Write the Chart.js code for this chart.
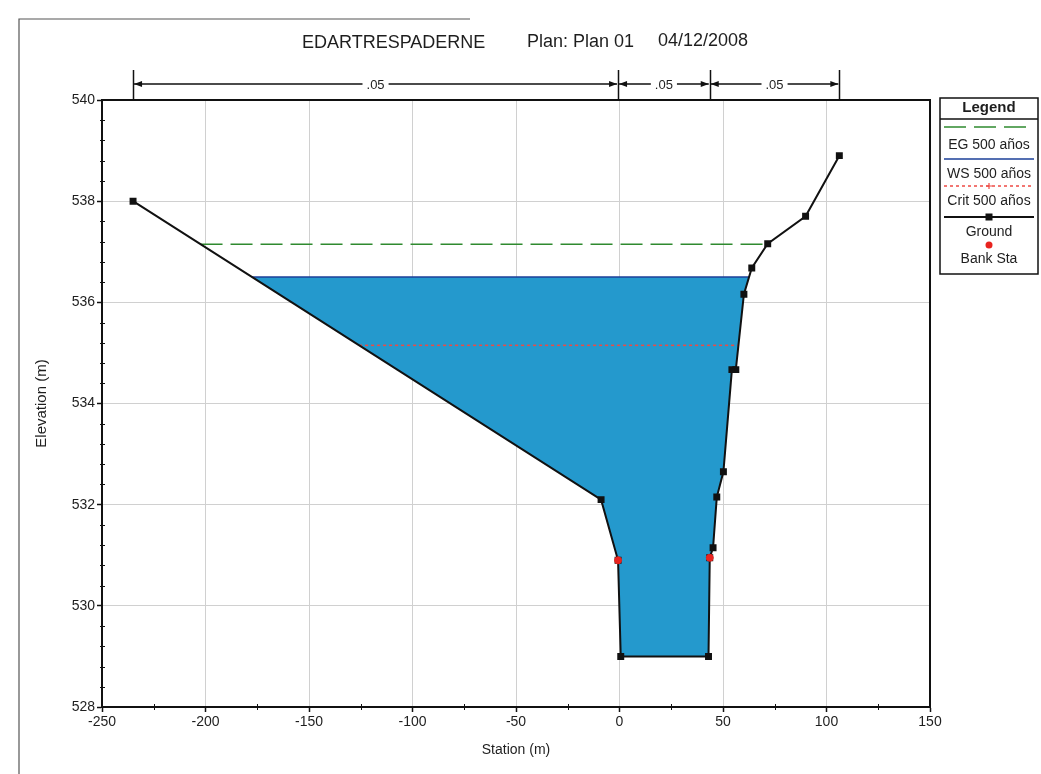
<!DOCTYPE html>
<html>
<head>
<meta charset="utf-8">
<title>EDARTRESPADERNE - Plan 01</title>
<script src="https://cdn.jsdelivr.net/npm/chart.js@4.4.1/dist/chart.umd.min.js"></script>
<style>
  html, body { margin: 0; padding: 0; background: #fff; }
  #wrap { position: relative; width: 1041px; height: 774px; }
</style>
</head>
<body>
<div id="wrap"><canvas id="xsChart" width="1041" height="774"></canvas></div>
<script>
// cross section, station (m) / elevation (m)
var groundStation = [-235, -8.9, -0.7, 0.6, 43.0, 43.6, 45.2, 47.0, 50.2, 54.3, 56.2, 60.1, 63.9, 71.6, 89.9, 106.2];
var groundElev    = [538.0, 532.1, 530.9, 529.0, 529.0, 530.95, 531.15, 532.15, 532.65, 534.67, 534.67, 536.16, 536.68, 537.16, 537.7, 538.9];
var bankStation = [-0.7, 43.6];
var bankElev    = [530.9, 530.95];
var wsStation = [-177.5, 62.6];
var wsElev    = [536.5, 536.5];
var egStation = [-202.4, 71.4];
var egElev    = [537.15, 537.15];
var critStation = [-125.8, 57.5];
var critElev    = [535.15, 535.15];
// manning n between the breaks
var nBreaks = [-235, -0.7, 43.6, 106.2];
var nValues = ['.05', '.05', '.05'];
// axis ticks
var xTickValues = [-250, -200, -150, -100, -50, 0, 50, 100, 150];
var yTickValues = [528, 530, 532, 534, 536, 538, 540];
var legendLabels = ['EG 500 años', 'WS 500 años', 'Crit 500 años', 'Ground', 'Bank Sta'];

var FONT = "'Liberation Sans', Arial, sans-serif";
var INK = '#1e1e1e';
var WATER = 'rgb(36,153,205)';

function pts(xs, ys) {
    return xs.map(function (x, i) { return { x: x, y: ys[i] }; });
}

Chart.defaults.font.family = FONT;

// title, plot box, minor ticks, n values and legend
var extras = {
    id: 'extras',
    afterDraw: function (chart) {
        var ctx = chart.ctx, a = chart.chartArea;
        var xs = chart.scales.x, ys = chart.scales.y;
        ctx.save();

        // page frame
        ctx.strokeStyle = '#555';
        ctx.lineWidth = 1.2;
        ctx.beginPath();
        ctx.moveTo(19, 774); ctx.lineTo(19, 19); ctx.lineTo(470, 19);
        ctx.stroke();

        // title
        ctx.fillStyle = INK;
        ctx.font = '18px ' + FONT;
        ctx.textBaseline = 'middle';
        ctx.textAlign = 'left';
        ctx.fillText('EDARTRESPADERNE', 302, 43);
        ctx.fillText('Plan: Plan 01', 527, 42);
        ctx.fillText('04/12/2008', 658, 41);

        // plot box
        ctx.strokeStyle = '#111';
        ctx.lineWidth = 2;
        ctx.strokeRect(a.left, a.top, a.right - a.left, a.bottom - a.top);

        // minor ticks
        ctx.lineWidth = 1;
        ctx.beginPath();
        for (var v = xTickValues[0]; v < xTickValues[xTickValues.length - 1]; v += 25) {
            if (xTickValues.indexOf(v) >= 0) continue;
            var px = Math.round(xs.getPixelForValue(v)) + 0.5;
            ctx.moveTo(px, a.bottom - 3); ctx.lineTo(px, a.bottom + 3);
        }
        for (var k = 0; k < 30; k++) {
            var ev = yTickValues[0] + k * 0.4;
            if (ev > yTickValues[yTickValues.length - 1]) break;
            if (Math.abs(ev - Math.round(ev)) < 0.01 && Math.round(ev) % 2 === 0) continue;
            var py = Math.round(ys.getPixelForValue(ev)) + 0.5;
            ctx.moveTo(a.left - 2, py); ctx.lineTo(a.left + 3, py);
        }
        ctx.stroke();

        // n values over the section
        var yLine = a.top - 16;
        ctx.lineWidth = 1.5;
        ctx.fillStyle = '#111';
        ctx.beginPath();
        nBreaks.forEach(function (s) {
            var bx = Math.round(xs.getPixelForValue(s)) + 0.5;
            ctx.moveTo(bx, a.top - 30); ctx.lineTo(bx, a.top);
        });
        ctx.stroke();
        ctx.font = '13px ' + FONT;
        ctx.textAlign = 'center';
        for (var i = 0; i < nValues.length; i++) {
            var x0 = xs.getPixelForValue(nBreaks[i]) + 1;
            var x1 = xs.getPixelForValue(nBreaks[i + 1]) - 1;
            var mid = (x0 + x1) / 2;
            var gap = ctx.measureText(nValues[i]).width / 2 + 4;
            ctx.beginPath();
            ctx.moveTo(x0, yLine); ctx.lineTo(mid - gap, yLine);
            ctx.moveTo(mid + gap, yLine); ctx.lineTo(x1, yLine);
            ctx.stroke();
            ctx.beginPath();
            ctx.moveTo(x0, yLine); ctx.lineTo(x0 + 8, yLine - 3); ctx.lineTo(x0 + 8, yLine + 3);
            ctx.closePath();
            ctx.moveTo(x1, yLine); ctx.lineTo(x1 - 8, yLine - 3); ctx.lineTo(x1 - 8, yLine + 3);
            ctx.closePath();
            ctx.fill();
            ctx.fillStyle = INK;
            ctx.fillText(nValues[i], mid, yLine + 1);
            ctx.fillStyle = '#111';
        }

        // legend
        var lx = 940, ly = 98, lw = 98, lh = 176;
        ctx.fillStyle = '#fff';
        ctx.fillRect(lx, ly, lw, lh);
        ctx.strokeStyle = '#111';
        ctx.lineWidth = 1.5;
        ctx.strokeRect(lx, ly, lw, lh);
        ctx.beginPath();
        ctx.moveTo(lx, ly + 21); ctx.lineTo(lx + lw, ly + 21);
        ctx.stroke();
        ctx.fillStyle = INK;
        ctx.font = 'bold 15px ' + FONT;
        ctx.fillText('Legend', lx + lw / 2, ly + 10);
        ctx.font = '14px ' + FONT;

        var ds = chart.data.datasets;
        var l0 = lx + 4, l1 = lx + lw - 4, cx = lx + lw / 2;
        function sample(d, y) {
            ctx.save();
            ctx.strokeStyle = d.borderColor;
            ctx.lineWidth = d.borderWidth;
            ctx.setLineDash(d.borderDash || []);
            ctx.beginPath();
            ctx.moveTo(l0, y); ctx.lineTo(l1, y);
            ctx.stroke();
            ctx.restore();
        }
        // EG
        sample(ds[4], ly + 29);
        ctx.fillText(legendLabels[0], cx, ly + 47);
        // WS
        sample(ds[2], ly + 61);
        ctx.fillText(legendLabels[1], cx, ly + 76);
        // Crit
        sample(ds[3], ly + 88);
        ctx.strokeStyle = ds[3].borderColor;
        ctx.lineWidth = 1.2;
        ctx.beginPath();
        ctx.moveTo(cx - 3, ly + 88); ctx.lineTo(cx + 3, ly + 88);
        ctx.moveTo(cx, ly + 85); ctx.lineTo(cx, ly + 91);
        ctx.stroke();
        ctx.fillText(legendLabels[2], cx, ly + 103);
        // Ground
        sample(ds[0], ly + 119);
        ctx.fillStyle = ds[0].pointBackgroundColor;
        ctx.fillRect(cx - 3.5, ly + 115.5, 7, 7);
        ctx.fillStyle = INK;
        ctx.fillText(legendLabels[3], cx, ly + 134);
        // Bank Sta
        ctx.fillStyle = ds[1].pointBackgroundColor;
        ctx.beginPath();
        ctx.arc(cx, ly + 147, 3.5, 0, Math.PI * 2);
        ctx.fill();
        ctx.fillStyle = INK;
        ctx.fillText(legendLabels[4], cx, ly + 161);

        ctx.restore();
    }
};

var ctx = document.getElementById('xsChart').getContext('2d');
var xsChart = new Chart(ctx, {
    type: 'line',
    data: {
        datasets: [{
            label: 'Ground',
            data: pts(groundStation, groundElev),
            borderColor: '#111',
            borderWidth: 2,
            pointStyle: 'rect',
            pointRadius: 3.5,
            pointBackgroundColor: '#111',
            pointBorderColor: '#111',
            fill: false,
            order: -1
        }, {
            label: 'Bank Sta',
            data: pts(bankStation, bankElev),
            showLine: false,
            pointStyle: 'circle',
            pointRadius: 3.5,
            pointBackgroundColor: '#e8231f',
            pointBorderColor: '#e8231f',
            order: -2
        }, {
            label: 'WS 500 años',
            data: pts(wsStation, wsElev),
            borderColor: '#1b3f99',
            borderWidth: 1.5,
            pointRadius: 0,
            backgroundColor: WATER,
            fill: 0,
            order: 1
        }, {
            label: 'Crit 500 años',
            data: pts(critStation, critElev),
            borderColor: '#ee4a44',
            borderWidth: 1.5,
            borderDash: [3, 3],
            pointRadius: 0,
            fill: false,
            order: 0
        }, {
            label: 'EG 500 años',
            data: pts(egStation, egElev),
            borderColor: '#2f8a2f',
            borderWidth: 1.5,
            borderDash: [22, 8],
            pointRadius: 0,
            fill: false,
            order: 0
        }]
    },
    options: {
        responsive: false,
        animation: false,
        layout: { padding: { left: 0, top: 100, right: 111, bottom: 0 } },
        plugins: {
            legend: { display: false },
            tooltip: { enabled: false },
            title: { display: false }
        },
        scales: {
            x: {
                type: 'linear',
                min: xTickValues[0],
                max: xTickValues[xTickValues.length - 1],
                afterBuildTicks: function (scale) {
                    scale.ticks = xTickValues.map(function (v) { return { value: v }; });
                },
                afterFit: function (scale) { scale.height = 67; },
                grid: { color: '#d0d0d0', lineWidth: 1, tickLength: 5, tickColor: '#111', tickWidth: 1.5 },
                border: { display: true, color: '#111', width: 2 },
                ticks: { font: { size: 14 }, color: INK, padding: 2, maxRotation: 0, autoSkip: false },
                title: { display: true, text: 'Station (m)', font: { size: 14 }, color: INK, padding: { top: 0, bottom: 15 } }
            },
            y: {
                min: yTickValues[0],
                max: yTickValues[yTickValues.length - 1],
                afterBuildTicks: function (scale) {
                    scale.ticks = yTickValues.map(function (v) { return { value: v }; });
                },
                afterFit: function (scale) { scale.width = 102; },
                grid: { color: '#d0d0d0', lineWidth: 1, tickLength: 5, tickColor: '#111', tickWidth: 1.5 },
                border: { display: true, color: '#111', width: 2 },
                ticks: { font: { size: 14 }, color: INK, padding: 2 },
                title: { display: true, text: 'Elevation (m)', font: { size: 15 }, color: INK, padding: { top: 33, bottom: 0 } }
            }
        }
    },
    plugins: [extras]
});
</script>
</body>
</html>
